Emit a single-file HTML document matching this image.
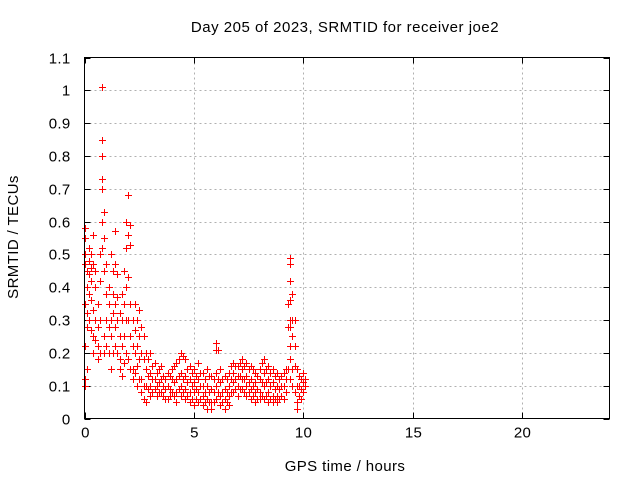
<!DOCTYPE html>
<html><head><meta charset="utf-8"><style>
body{margin:0;background:#fff;}
svg{display:block;font-family:"Liberation Sans",sans-serif;}
</style></head><body>
<svg id="chart" width="640" height="480">
<text x="345" y="32" font-size="15" letter-spacing="0.5" text-anchor="middle">Day 205 of 2023, SRMTID for receiver joe2</text>
<text x="345" y="471" font-size="15" letter-spacing="0.4" text-anchor="middle">GPS time / hours</text>
<text x="18" y="237" font-size="15" letter-spacing="0.4" text-anchor="middle" transform="rotate(-90 18 237)">SRMTID / TECUs</text>
<g id="grid"></g>
<g id="ticks"></g>
<g id="points"></g>
<rect x="84.5" y="57.5" width="525" height="361" fill="none" stroke="#000"/>
</svg>
<script>
const xTicks=[0,5,10,15,20];
const yTicks=[0,0.1,0.2,0.3,0.4,0.5,0.6,0.7,0.8,0.9,1,1.1];
const yTickLabels=["0","0.1","0.2","0.3","0.4","0.5","0.6","0.7","0.8","0.9","1","1.1"];
const times=[0.0,0.1,0.2,0.3,0.4,0.5,0.6,0.7,0.8,0.9,1.0,1.1,1.2,1.3,1.4,1.5,1.6,1.7,1.8,1.9,2.0,2.1,2.2,2.3,2.4,2.5,2.6,2.7,2.8,2.9,3.0,3.1,3.2,3.3,3.4,3.5,3.6,3.7,3.8,3.9,4.0,4.1,4.2,4.3,4.4,4.5,4.6,4.7,4.8,4.9,5.0,5.1,5.2,5.3,5.4,5.5,5.6,5.7,5.8,5.9,6.0,6.1,6.2,6.3,6.4,6.5,6.6,6.7,6.8,6.9,7.0,7.1,7.2,7.3,7.4,7.5,7.6,7.7,7.8,7.9,8.0,8.1,8.2,8.3,8.4,8.5,8.6,8.7,8.8,8.9,9.0,9.1,9.2,9.3,9.4,9.5,9.6,9.7,9.8,9.9,10.0,10.1];
const values=[
[0.5,0.47,0.58,0.55,0.35,0.22,0.12,0.1],[0.45,0.4,0.32,0.28,0.15],[0.48,0.52,0.44,0.38,0.3],[0.42,0.46,0.5,0.36,0.27],[0.56,0.47,0.33,0.25,0.2],
[0.45,0.4,0.3,0.24],[0.35,0.28,0.22,0.18],[0.5,0.42,0.3,0.2],[1.01,0.85,0.8,0.73,0.7,0.6,0.52],[0.63,0.55,0.45,0.25,0.2],
[0.47,0.38,0.3,0.22],[0.4,0.35,0.28,0.2],[0.5,0.3,0.25,0.15],[0.45,0.38,0.32,0.2],[0.57,0.47,0.35,0.28,0.22],
[0.44,0.37,0.3,0.2],[0.32,0.25,0.18,0.15],[0.38,0.3,0.22,0.13],[0.45,0.35,0.25,0.17],[0.6,0.52,0.4,0.3,0.2],
[0.68,0.56,0.43,0.3,0.18],[0.59,0.53,0.35,0.25,0.15],[0.3,0.22,0.15,0.12],[0.35,0.27,0.2,0.14],[0.3,0.22,0.16,0.1],
[0.33,0.25,0.18,0.12],[0.28,0.2,0.12,0.08],[0.25,0.18,0.1,0.06],[0.2,0.15,0.1,0.05],[0.18,0.13,0.09],
[0.2,0.14,0.1,0.07],[0.16,0.12,0.08],[0.17,0.12,0.09],[0.14,0.1,0.07],[0.15,0.11,0.08],
[0.16,0.12,0.08],[0.13,0.1,0.07],[0.12,0.09,0.06],[0.14,0.1,0.06],[0.13,0.09,0.07],
[0.15,0.12,0.08],[0.16,0.11,0.07],[0.17,0.12,0.08,0.05],[0.18,0.13,0.09],[0.2,0.14,0.1,0.07],
[0.19,0.12,0.08],[0.18,0.13,0.09,0.06],[0.15,0.11,0.07],[0.16,0.12,0.08,0.05],[0.14,0.1,0.06],
[0.15,0.11,0.08,0.04],[0.13,0.09,0.06],[0.17,0.12,0.08,0.05],[0.14,0.1,0.06],[0.14,0.1,0.07,0.04],
[0.12,0.08,0.05],[0.15,0.1,0.06,0.03],[0.13,0.08,0.05],[0.13,0.09,0.05,0.03],[0.12,0.08,0.05],
[0.23,0.21,0.14,0.1,0.06],[0.21,0.12,0.08],[0.15,0.11,0.07,0.04],[0.12,0.08,0.05],[0.13,0.09,0.06,0.03],
[0.12,0.08,0.05],[0.14,0.1,0.07,0.04],[0.16,0.12,0.08],[0.17,0.14,0.11,0.08],[0.16,0.12,0.09],
[0.16,0.13,0.1,0.07],[0.17,0.13,0.09],[0.18,0.15,0.12,0.09],[0.16,0.12,0.08],[0.17,0.13,0.1,0.07],
[0.15,0.11,0.08],[0.16,0.12,0.09,0.06],[0.15,0.1,0.07],[0.14,0.11,0.08,0.05],[0.13,0.09,0.06],
[0.15,0.12,0.08,0.06],[0.17,0.11,0.07],[0.18,0.14,0.1,0.06],[0.15,0.11,0.07],[0.16,0.12,0.08,0.05],
[0.14,0.1,0.06],[0.15,0.11,0.07,0.05],[0.13,0.09,0.06],[0.14,0.1,0.07,0.05],[0.12,0.09,0.06],
[0.13,0.1,0.07],[0.14,0.1,0.06],[0.15,0.12,0.08],[0.35,0.28,0.15],[0.49,0.47,0.42,0.36,0.3,0.28,0.22,0.18,0.12],
[0.38,0.3,0.25,0.15,0.1],[0.3,0.22,0.16,0.08],[0.15,0.1,0.05,0.03],[0.13,0.1,0.07],[0.12,0.09,0.06],
[0.14,0.11,0.08],[0.12,0.1]];
const NS='http://www.w3.org/2000/svg';
const L=84.5,R=609.5,T=57.5,B=418.5;
function xs(v){return L+(v/24)*(R-L);}
function ys(v){return B-(v/1.1)*(B-T);}
function mk(tag,at,parent){const e=document.createElementNS(NS,tag);for(const k in at)e.setAttribute(k,at[k]);parent.appendChild(e);return e;}
const grid=document.getElementById('grid'),ticks=document.getElementById('ticks'),pts=document.getElementById('points');
xTicks.forEach(t=>{const x=Math.round(xs(t))+0.5;
 if(t>0){const g=mk('line',{x1:x,x2:x,y1:T,y2:B,stroke:'#b0b0b0','stroke-dasharray':'2,3'},grid);
 
 }
 const tk=mk('path',{d:`M${x} ${B}v-6M${x} ${T}v6`,stroke:'#000'},ticks);
 
 
 const lb=mk('text',{x:x,y:B+19,'font-size':15,'letter-spacing':0.3,'text-anchor':'middle'},ticks);lb.textContent=t;
 
 });
yTicks.forEach((t,i)=>{const y=Math.round(ys(t))+0.5;
 if(i>0&&i<yTicks.length-1){const g=mk('line',{x1:L,x2:R,y1:y,y2:y,stroke:'#b0b0b0','stroke-dasharray':'2,3'},grid);
 
 }
 const tk=mk('path',{d:`M${L} ${y}h6M${R} ${y}h-6`,stroke:'#000'},ticks);
 
 
 const lb=mk('text',{x:L-14,y:y+5,'font-size':15,'letter-spacing':0.3,'text-anchor':'end'},ticks);lb.textContent=yTickLabels[i];
 
 });
let d='';
times.forEach((t,i)=>{values[i].forEach(v=>{const x=Math.round(xs(t))+0.5,y=Math.round(ys(v))+0.5;d+=`M${x-3.5} ${y}h7M${x} ${y-3.5}v7`;});});
const p=mk('path',{d:d,stroke:'#ff0000','stroke-width':1,fill:'none','shape-rendering':'crispEdges'},pts);


</script>
</body></html>
